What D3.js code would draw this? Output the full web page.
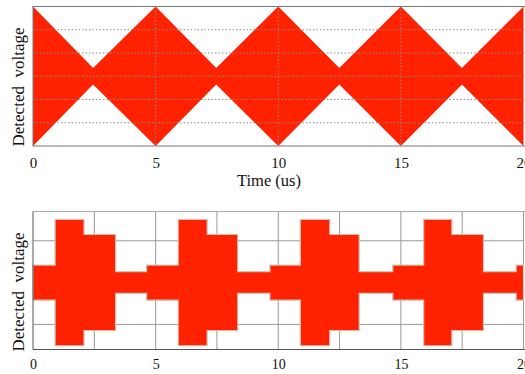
<!DOCTYPE html>
<html>
<head>
<meta charset="utf-8">
<script src="https://cdn.jsdelivr.net/npm/d3@7"></script>
<style>
  body { margin: 0; background: #fff; }
  text { font-family: "Liberation Serif", "Times New Roman", serif; fill: #111; }
</style>
</head>
<body>
<div id="graph"></div>
<script>
// top panel: envelope of the detected signal (peaks / waists)
var envTimes = [0, 2.45, 5, 7.47, 10, 12.49, 15, 17.49, 20];
var envAmp   = [3, 0.36, 3, 0.36, 3, 0.36, 3, 0.36, 3];

// bottom panel: stepped envelope
var stepTimes  = [0, 0.9, 2.08, 3.37, 4.63, 5.92, 7.1, 8.35, 9.66, 10.9, 12.1, 13.3, 14.67, 15.93, 17.08, 18.37, 19.7, 20];
var stepLevels = [0.42, 1.51, 1.15, 0.26, 0.42, 1.51, 1.15, 0.26, 0.42, 1.51, 1.15, 0.26, 0.42, 1.51, 1.15, 0.26, 0.42, 0.42];

var xTicks = [0, 5, 10, 15, 20];
var topYTicks = [-2, -1, 0, 1, 2];
var botXGrid = [2.5, 5, 7.5, 10, 12.5, 15, 17.5, 20];
var botYGrid = [-1, 0, 1];

var width = 525, height = 374;
var red = "#ff2200";

var svg = d3.select("#graph").append("svg")
    .attr("width", width)
    .attr("height", height);

var x = d3.scaleLinear().domain([0, 20]).range([33, 523.5]);

// ---------- top panel ----------
var y1 = d3.scaleLinear().domain([-3, 3]).range([146, 6.5]);
var g1 = svg.append("g");

var envData = envTimes.map(function(t, i) { return { t: t, a: envAmp[i] }; });
var envArea = d3.area()
    .x(function(d) { return x(d.t); })
    .y0(function(d) { return y1(-d.a); })
    .y1(function(d) { return y1(d.a); });

g1.append("path")
    .datum(envData)
    .attr("d", envArea)
    .attr("fill", red);

// dotted grid sits on top of the red fill
g1.selectAll(".hgrid")
    .data(topYTicks)
    .enter().append("line")
    .attr("x1", x(0)).attr("x2", x(20) + 3)
    .attr("y1", function(d) { return y1(d); })
    .attr("y2", function(d) { return y1(d); })
    .attr("stroke", "#8a8a8a")
    .attr("stroke-dasharray", "1.5,2");

g1.selectAll(".vgrid")
    .data([5, 10, 15])
    .enter().append("line")
    .attr("x1", function(d) { return x(d); })
    .attr("x2", function(d) { return x(d); })
    .attr("y1", y1(3)).attr("y2", y1(-3))
    .attr("stroke", "#8a8a8a")
    .attr("stroke-dasharray", "1.5,2");

g1.append("rect")
    .attr("x", x(0)).attr("y", y1(3))
    .attr("width", x(20) - x(0) + 3).attr("height", y1(-3) - y1(3))
    .attr("fill", "none")
    .attr("stroke", "#777");

g1.append("g")
    .attr("transform", "translate(0," + y1(-3) + ")")
    .call(d3.axisBottom(x).tickValues(xTicks).tickSize(0).tickPadding(11))
    .call(function(g) { g.select(".domain").remove(); })
    .selectAll("text")
    .style("font-size", "15px");

g1.append("text")
    .attr("x", 269).attr("y", 186)
    .attr("text-anchor", "middle")
    .style("font-size", "16.5px")
    .text("Time (us)");

g1.append("text")
    .attr("transform", "translate(24,87) rotate(-90)")
    .attr("text-anchor", "middle")
    .style("font-size", "17px")
    .style("white-space", "pre")
    .text("Detected  voltage");

// ---------- bottom panel ----------
var y2 = d3.scaleLinear().domain([-1.6, 1.7]).range([349.5, 211.5]);
var g2 = svg.append("g");

g2.append("line")
    .attr("x1", x(0)).attr("x2", x(20) + 3)
    .attr("y1", y2(1.7)).attr("y2", y2(1.7))
    .attr("stroke", "#aaa");

g2.selectAll(".hgrid")
    .data(botYGrid)
    .enter().append("line")
    .attr("x1", x(0)).attr("x2", x(20))
    .attr("y1", function(d) { return y2(d); })
    .attr("y2", function(d) { return y2(d); })
    .attr("stroke", "#999");

g2.selectAll(".vgrid")
    .data(botXGrid)
    .enter().append("line")
    .attr("x1", function(d) { return x(d); })
    .attr("x2", function(d) { return x(d); })
    .attr("y1", y2(1.7)).attr("y2", y2(-1.6))
    .attr("stroke", "#999");

var stepData = stepTimes.map(function(t, i) { return { t: t, a: stepLevels[i] }; });
var stepArea = d3.area()
    .curve(d3.curveStepAfter)
    .x(function(d) { return x(d.t); })
    .y0(function(d) { return y2(-d.a); })
    .y1(function(d) { return y2(d.a); });

g2.append("path")
    .datum(stepData)
    .attr("d", stepArea)
    .attr("fill", red)
    .attr("stroke", "#c9c6b6")
    .attr("stroke-width", 1.2);

// axes lines
g2.append("line")
    .attr("x1", x(0)).attr("x2", x(0))
    .attr("y1", y2(1.7)).attr("y2", y2(-1.6))
    .attr("stroke", "#555");
g2.append("line")
    .attr("x1", x(0)).attr("x2", x(20) + 3)
    .attr("y1", y2(-1.6)).attr("y2", y2(-1.6))
    .attr("stroke", "#555");

g2.append("g")
    .attr("transform", "translate(0," + y2(-1.6) + ")")
    .call(d3.axisBottom(x).tickValues(xTicks).tickSize(0).tickPadding(10))
    .call(function(g) { g.select(".domain").remove(); })
    .selectAll("text")
    .style("font-size", "14px");

g2.append("text")
    .attr("transform", "translate(24,292) rotate(-90)")
    .attr("text-anchor", "middle")
    .style("font-size", "17px")
    .style("white-space", "pre")
    .text("Detected  voltage");
</script>
</body>
</html>
